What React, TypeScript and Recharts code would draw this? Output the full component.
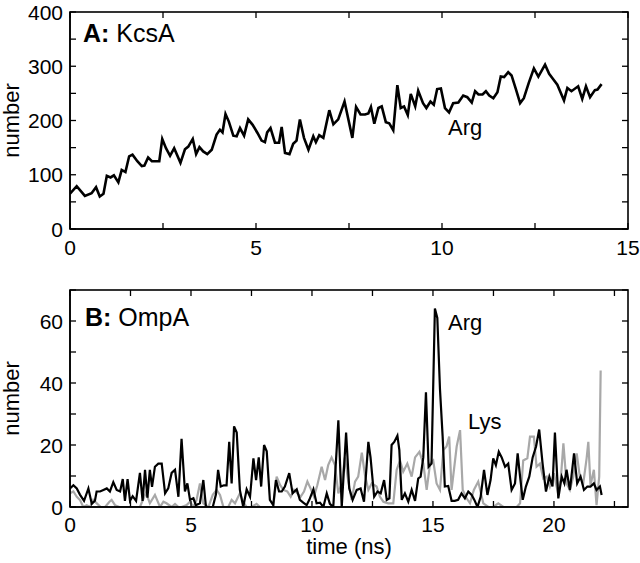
import React from "react";
import { LineChart, Line, XAxis, YAxis } from "recharts";

// Panel A: KcsA, Arg count vs time (ns)
const kcsaTime = [
  0, 0.18, 0.4, 0.58, 0.7, 0.8, 0.9, 0.99, 1.09, 1.18, 1.3, 1.39, 1.49, 1.59, 1.68, 1.81, 1.93, 2.0, 2.1, 2.2,
  2.4, 2.48, 2.58, 2.69, 2.8, 2.97, 3.09, 3.18, 3.3, 3.39, 3.48, 3.58, 3.69, 3.81, 3.94, 4.03, 4.1, 4.18, 4.27, 4.39,
  4.48, 4.57, 4.68, 4.79, 4.91, 5.04, 5.15, 5.24, 5.3, 5.39, 5.51, 5.62, 5.69, 5.78, 5.9, 6.0, 6.09, 6.18, 6.29, 6.41,
  6.54, 6.61, 6.7, 6.81, 6.97, 7.08, 7.21, 7.38, 7.59, 7.69, 7.81, 7.93, 8.02, 8.09, 8.18, 8.29, 8.38, 8.49, 8.58, 8.69,
  8.8, 8.89, 8.98, 9.08, 9.16, 9.28, 9.36, 9.49, 9.58, 9.69, 9.78, 9.87, 9.97, 10.08, 10.19, 10.3, 10.44, 10.57, 10.68, 10.8,
  10.89, 10.98, 11.09, 11.18, 11.27, 11.38, 11.49, 11.58, 11.67, 11.78, 11.87, 11.99, 12.1, 12.2, 12.33, 12.47, 12.59, 12.77, 12.88, 12.99,
  13.1, 13.28, 13.37, 13.48, 13.66, 13.77, 13.87, 13.98, 14.11, 14.18, 14.29,
];
const kcsaArg = [
  65, 79, 61, 66, 77, 60, 65, 98, 95, 99, 86, 109, 105, 134, 137, 125, 116, 117, 132, 125,
  125, 166, 149, 135, 149, 122, 147, 152, 166, 138, 151, 143, 138, 146, 174, 183, 178, 212, 198, 172,
  171, 186, 172, 202, 192, 177, 163, 160, 178, 186, 159, 159, 188, 140, 138, 157, 163, 202, 168, 146,
  171, 160, 173, 168, 219, 193, 202, 235, 168, 225, 211, 211, 213, 225, 194, 223, 226, 197, 195, 182,
  265, 223, 226, 210, 249, 226, 255, 232, 223, 235, 229, 258, 259, 223, 215, 232, 233, 246, 243, 233,
  254, 248, 248, 254, 246, 241, 252, 281, 280, 289, 283, 257, 232, 241, 269, 296, 281, 303, 286, 276,
  266, 237, 260, 254, 263, 240, 263, 243, 256, 257, 267,
];

// Panel B: OmpA, Arg (black) and Lys (grey)
const ompaArgTime = [
  0, 0.14, 0.28, 0.41, 0.58, 0.76, 0.9, 1.03, 1.1, 1.24, 1.38, 1.52, 1.65, 1.79, 1.93, 2.07, 2.18, 2.27, 2.38, 2.48,
  2.59, 2.73, 2.89, 3.0, 3.1, 3.2, 3.3, 3.39, 3.51, 3.65, 3.79, 3.93, 4.06, 4.2, 4.34, 4.48, 4.61, 4.75, 4.85, 4.96,
  5.1, 5.2, 5.37, 5.51, 5.62, 5.76, 5.9, 6.03, 6.12, 6.23, 6.36, 6.47, 6.58, 6.68, 6.78, 6.89, 7.02, 7.16, 7.3, 7.44,
  7.58, 7.69, 7.8, 7.9, 8.02, 8.13, 8.26, 8.4, 8.51, 8.64, 8.75, 8.88, 9.06, 9.2, 9.37, 9.5, 9.64, 9.78, 9.89, 10.06,
  10.19, 10.33, 10.47, 10.61, 10.74, 10.88, 11.09, 11.23, 11.41, 11.54, 11.68, 11.85, 12.01, 12.15, 12.33, 12.42, 12.57, 12.71, 12.84, 12.98,
  13.09, 13.2, 13.29, 13.4, 13.53, 13.61, 13.71, 13.84, 13.98, 14.12, 14.26, 14.39, 14.49, 14.6, 14.71, 14.82, 14.94, 15.08, 15.18, 15.29,
  15.4, 15.49, 15.63, 15.77, 15.9, 16.04, 16.18, 16.32, 16.46, 16.6, 16.71, 16.84, 16.97, 17.11, 17.25, 17.38, 17.49, 17.6, 17.72, 17.84,
  17.98, 18.11, 18.25, 18.39, 18.5, 18.6, 18.71, 18.84, 18.98, 19.12, 19.26, 19.39, 19.53, 19.67, 19.81, 19.94, 20.04, 20.18, 20.32, 20.43,
  20.52, 20.66, 20.83, 20.96, 21.1, 21.24, 21.38, 21.51, 21.65, 21.76, 21.9, 21.97,
];
const ompaArg = [
  6, 7, 6, 4, 2, 6, 1, 2, 5, 5, 5.5, 6, 5, 8, 5.5, 5, 9, 2, 9, 2,
  3.5, 2, 11, 2, 12, 3, 12, 6.5, 13, 14, 14, 4.4, 6, 11, 12, 3.3, 22, 5, 7.6, 2.3,
  2.8, 0.6, 1.2, 8.7, 0, 0, 0, 4, 12, 6.6, 7, 7, 21, 7.6, 26, 24, 5.5, 0, 5.7, 3.3,
  15.7, 8.7, 16, 6.6, 20, 18, 2.3, 0.6, 8.7, 5, 5, 6.6, 10.9, 4.4, 5.7, 2.3, 1.4, 0.6, 2.3, 5.7,
  1.2, 1.4, 0, 4.4, 1, 0, 28, 0, 24, 6, 2.3, 5.5, 6, 1.7, 21, 16, 3.3, 5, 4.4, 8.7,
  2.3, 2.8, 20, 21, 23, 18.4, 2.3, 4.4, 1.7, 5.5, 2, 9.2, 9.8, 16, 37, 13, 14, 64, 61, 38,
  22.7, 6.6, 6.8, 2, 2, 2.3, 4.4, 2.8, 5, 3.9, 2.3, 0, 3.3, 12, 3.9, 8.7, 15.7, 13.5, 17.8, 16,
  13, 14, 5.5, 7.6, 17.3, 9.8, 2.3, 6.6, 9.8, 16, 19.5, 25, 14, 5, 9.8, 6.6, 24, 2.8, 9.8, 7.6,
  12, 5.5, 17.3, 7.6, 9.8, 5.5, 6.6, 6.6, 7.6, 5.5, 6.6, 3.9,
];
const ompaLysTime = [
  0, 0.14, 0.28, 0.41, 0.55, 0.69, 0.83, 0.96, 1.13, 1.27, 1.45, 1.63, 1.72, 1.86, 2.04, 2.34, 2.62, 2.89, 3.14, 3.3,
  3.51, 3.72, 3.86, 3.99, 4.2, 4.34, 4.48, 4.61, 4.82, 4.96, 5.1, 5.23, 5.37, 5.51, 5.72, 5.9, 6.06, 6.2, 6.34, 6.54,
  6.68, 6.82, 7.02, 7.16, 7.3, 7.5, 7.71, 7.85, 8.06, 8.24, 8.4, 8.54, 8.68, 8.82, 8.98, 9.12, 9.26, 9.39, 9.53, 9.67,
  9.81, 9.94, 10.08, 10.22, 10.4, 10.54, 10.67, 10.81, 10.95, 11.09, 11.23, 11.36, 11.5, 11.64, 11.78, 11.91, 12.06, 12.19, 12.33, 12.47,
  12.67, 12.81, 12.95, 13.15, 13.36, 13.5, 13.64, 13.77, 13.94, 14.12, 14.26, 14.44, 14.6, 14.74, 14.88, 15.01, 15.15, 15.29, 15.43, 15.56,
  15.67, 15.77, 15.98, 16.12, 16.23, 16.39, 16.53, 16.69, 16.87, 17.08, 17.29, 17.49, 17.7, 17.91, 18.18, 18.46, 18.6, 18.73, 18.9, 19.01,
  19.17, 19.28, 19.42, 19.56, 19.7, 19.83, 20.0, 20.14, 20.28, 20.39, 20.52, 20.66, 20.8, 20.94, 21.07, 21.21, 21.35, 21.42, 21.51, 21.65,
  21.76, 21.87, 21.93,
];
const ompaLys = [
  4.4, 5, 3.3, 2.3, 0, 0.6, 0, 2.3, 1, 0, 0, 1.7, 2.3, 0.6, 0, 0, 0, 0, 4.6, 1.2,
  3.9, 0, 1.7, 1.2, 0, 1, 0, 0, 0.6, 1.7, 0, 2.3, 7.6, 1.2, 0, 3.9, 5.5, 3.9, 0, 0,
  2.3, 1.2, 4.4, 1.7, 0, 0, 1, 0, 0, 0, 0, 9.8, 7.1, 5.5, 5, 3.3, 5.5, 4.4, 3.3, 5,
  8.2, 6, 3.3, 7, 13, 8.7, 13.5, 16, 13.5, 4.4, 7.6, 16, 8.2, 2.3, 8.2, 9.8, 17.5, 10.3, 5.5, 7.6,
  6.6, 3.3, 1.7, 1.2, 1.2, 12, 15, 11.4, 14, 9.8, 16, 17.8, 14, 5.5, 14, 15, 7.6, 5.5, 18.4, 19.5,
  22.7, 5.5, 19.5, 24.8, 5.5, 2.8, 1.2, 5.5, 8.2, 1.2, 0, 0, 1.2, 0, 0, 0, 1.2, 15, 15.7, 22.7,
  22.7, 13, 14, 9.2, 9.8, 6.6, 10.9, 5.5, 8.7, 20.5, 7.6, 5.5, 9.8, 17.3, 9.8, 7.6, 15.7, 21, 7, 12,
  0.6, 9.8, 44,
];

const kcsaTicksX = [0, 2.5, 5, 7.5, 10, 12.5, 15];
const kcsaTicksY = [0, 50, 100, 150, 200, 250, 300, 350, 400];
const ompaTicksX = [0, 2.5, 5, 7.5, 10, 12.5, 15, 17.5, 20, 22.5];
const ompaTicksY = [0, 10, 20, 30, 40, 50, 60, 70];

const zip = (t: number[], v: number[]) => t.map((x, i) => ({ t: x, v: v[i] }));
const kcsaData = zip(kcsaTime, kcsaArg);
const argData = zip(ompaArgTime, ompaArg);
const lysData = zip(ompaLysTime, ompaLys);

const FONT = "'Liberation Sans', Arial, Helvetica, sans-serif";
const TICK_FS = 21;
const TL = 6; // inward tick length

// shared plot geometry (margins below give these)
const PL = 70;
const PW = 558;
const PH = 217;
const TOP_A = 12;
const TOP_B = 290;
const XMAX_A = 15;
const YMAX_A = 400;
const XMAX_B = 23.06;
const YMAX_B = 70;

const isMajor = (v: number, step: number) => Math.abs(v % step) < 1e-6;

const xLabel = (step: number) => (props: any) => {
  const { x, y, payload } = props;
  if (!isMajor(payload.value, step)) return <g />;
  return (
    <text x={x} y={y} dy="0.71em" textAnchor="middle" fontSize={TICK_FS} fontFamily={FONT} fill="#000">
      {payload.value}
    </text>
  );
};

const yLabel = (step: number) => (props: any) => {
  const { x, y, payload } = props;
  if (!isMajor(payload.value, step)) return <g />;
  return (
    <text x={x} y={y} dy="0.36em" textAnchor="end" fontSize={TICK_FS} fontFamily={FONT} fill="#000">
      {payload.value}
    </text>
  );
};

// box frame with inward ticks on all four sides
const Frame = ({ top, xMax, yMax, xTicks, yTicks }: { top: number; xMax: number; yMax: number; xTicks: number[]; yTicks: number[] }) => {
  const bottom = top + PH;
  const right = PL + PW;
  const px = (v: number) => PL + (v / xMax) * PW;
  const py = (v: number) => bottom - (v / yMax) * PH;
  return (
    <g stroke="#000" strokeWidth={1.3} fill="none">
      <rect x={PL} y={top} width={PW} height={PH} strokeWidth={1.6} />
      {xTicks.map((v) => (
        <g key={`x${v}`}>
          <line x1={px(v)} y1={bottom} x2={px(v)} y2={bottom - TL} />
          <line x1={px(v)} y1={top} x2={px(v)} y2={top + TL} />
        </g>
      ))}
      {yTicks.map((v) => (
        <g key={`y${v}`}>
          <line x1={PL} y1={py(v)} x2={PL + TL} y2={py(v)} />
          <line x1={right} y1={py(v)} x2={right - TL} y2={py(v)} />
        </g>
      ))}
    </g>
  );
};

export default function App() {
  return (
    <div style={{ position: "absolute", left: 0, top: 0, width: 640, height: 563, background: "#fff", fontFamily: FONT }}>
      <div style={{ position: "absolute", left: 0, top: 0 }}>
        <LineChart width={640} height={260} data={kcsaData} margin={{ top: TOP_A, right: 640 - PL - PW, bottom: 0, left: 0 }}>
          <XAxis
            type="number"
            dataKey="t"
            domain={[0, XMAX_A]}
            ticks={kcsaTicksX}
            interval={0}
            allowDataOverflow
            height={31}
            tickSize={0}
            tickMargin={11}
            tickLine={false}
            tick={xLabel(5)}
            axisLine={{ stroke: "#000", strokeWidth: 1.5 }}
          />
          <YAxis
            type="number"
            domain={[0, YMAX_A]}
            ticks={kcsaTicksY}
            interval={0}
            allowDataOverflow
            width={PL}
            tickSize={0}
            tickMargin={7}
            tickLine={false}
            tick={yLabel(100)}
            axisLine={{ stroke: "#000", strokeWidth: 1.5 }}
          />
          <Line
            data={kcsaData}
            dataKey="v"
            type="linear"
            stroke="#000"
            strokeWidth={2.6}
            dot={false}
            isAnimationActive={false}
          />
        </LineChart>
      </div>
      <div style={{ position: "absolute", left: 0, top: 278 }}>
        <LineChart width={640} height={285} data={argData} margin={{ top: TOP_B - 278, right: 640 - PL - PW, bottom: 0, left: 0 }}>
          <XAxis
            type="number"
            dataKey="t"
            domain={[0, XMAX_B]}
            ticks={ompaTicksX}
            interval={0}
            allowDataOverflow
            height={56}
            tickSize={0}
            tickMargin={10}
            tickLine={false}
            tick={xLabel(5)}
            axisLine={{ stroke: "#000", strokeWidth: 1.5 }}
          />
          <YAxis
            type="number"
            domain={[0, YMAX_B]}
            ticks={ompaTicksY}
            interval={0}
            allowDataOverflow
            width={PL}
            tickSize={0}
            tickMargin={7}
            tickLine={false}
            tick={yLabel(20)}
            axisLine={{ stroke: "#000", strokeWidth: 1.5 }}
          />
          <Line
            data={lysData}
            dataKey="v"
            type="linear"
            stroke="#a8a8a8"
            strokeWidth={2.2}
            dot={false}
            isAnimationActive={false}
          />
          <Line
            data={argData}
            dataKey="v"
            type="linear"
            stroke="#000"
            strokeWidth={2.2}
            dot={false}
            isAnimationActive={false}
          />
        </LineChart>
      </div>
      <svg width={640} height={563} style={{ position: "absolute", left: 0, top: 0, pointerEvents: "none" }} fontFamily={FONT}>
        <Frame top={TOP_A} xMax={XMAX_A} yMax={YMAX_A} xTicks={kcsaTicksX} yTicks={kcsaTicksY} />
        <Frame top={TOP_B} xMax={XMAX_B} yMax={YMAX_B} xTicks={ompaTicksX} yTicks={ompaTicksY} />
        <text x={83} y={42} fontSize={25}>
          <tspan fontWeight="bold">A:</tspan> KcsA
        </text>
        <text x={448} y={135} fontSize={22}>Arg</text>
        <text x={85} y={326} fontSize={25}>
          <tspan fontWeight="bold">B:</tspan> OmpA
        </text>
        <text x={448} y={330} fontSize={22}>Arg</text>
        <text x={468} y={429} fontSize={22}>Lys</text>
        <text x={19} y={120.5} fontSize={22} textAnchor="middle" transform="rotate(-90 19 120.5)">number</text>
        <text x={19} y={398.5} fontSize={22} textAnchor="middle" transform="rotate(-90 19 398.5)">number</text>
        <text x={349} y={554} fontSize={22} textAnchor="middle">time (ns)</text>
      </svg>
    </div>
  );
}
